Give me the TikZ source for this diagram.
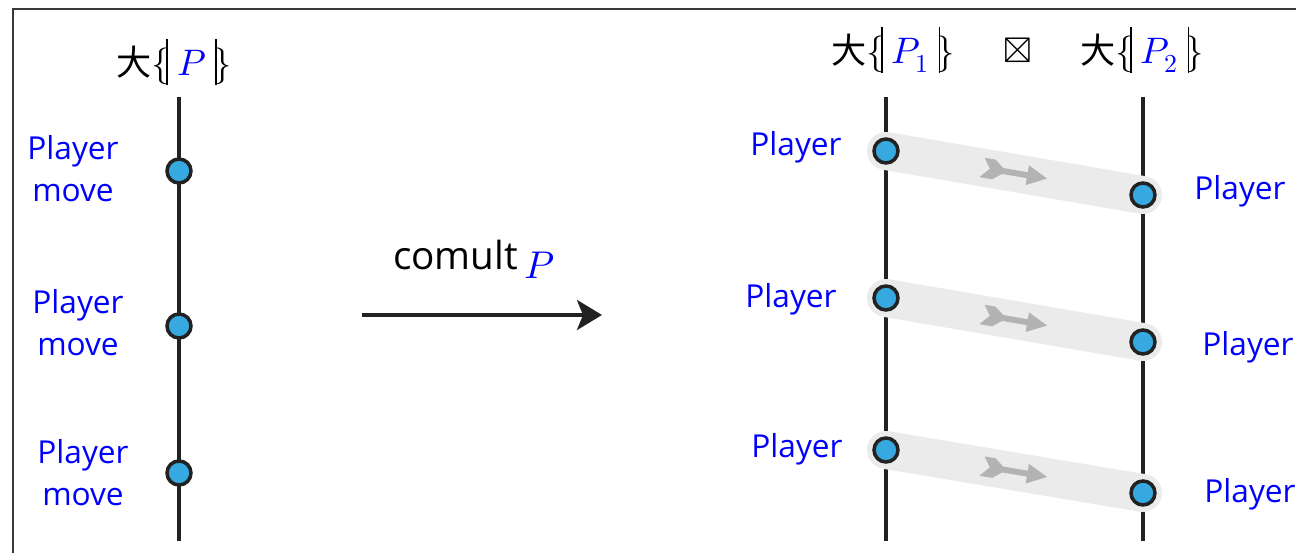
\documentclass[tikz,border=0pt]{standalone}
\usepackage{fontspec}
\usepackage{unicode-math}
\setmainfont{Open Sans}
\newfontfamily\cjk{Noto Sans CJK SC}
\usepackage{xcolor}
\usetikzlibrary{arrows.meta,decorations.markings}

\definecolor{dotblue}{HTML}{36A9E1}
\definecolor{bandgray}{HTML}{EBEBEB}
\definecolor{flechgray}{HTML}{B3B3B3}
\definecolor{ink}{HTML}{222222}

\newcommand{\Pv}[1]{\textcolor{blue}{#1}}
\newcommand{\lbb}{$\{$\kern-0.1em\rule[-0.5ex]{0.045em}{2.35ex}}
\newcommand{\rbb}{\rule[-0.5ex]{0.045em}{2.35ex}\kern-0.1em$\}$}
\newcommand{\ttl}[1]{{\cjk\fontsize{20}{24}\selectfont 大}\lbb\kern0.25em$\Pv{#1}$\kern0.25em\rbb}

\tikzset{
  wire/.style={ink, line width=2.1pt},
  dot/.style={circle, draw=ink, fill=dotblue, line width=2pt, minimum size=0.48cm, inner sep=0pt},
  lbl/.style={text=blue, font=\fontsize{18}{24}\selectfont, align=center},
  band/.style={bandgray, line width=0.76cm, line cap=round,
    postaction={decorate, decoration={markings, mark=at position 0.5 with {
      \fill[flechgray] (-32,-10) -- (-21,-10) -- (-12,-3) -- (13,-3) -- (13,-10) -- (33,0)
        -- (13,10) -- (13,3) -- (-12,3) -- (-21,10) -- (-34,10) -- (-25,0) -- cycle;}}}},
}

\begin{document}
\begin{tikzpicture}[x=0.02cm, y=-0.02cm, font=\fontsize{21}{25}\selectfont]
        \useasboundingbox (0,0) rectangle (1296,553);
        \draw[ink!90, line width=1.1pt] (13,553) |- (1296,9);

        % single wire
        \node(t) at (174,62) {\ttl{P}};
        \coordinate(top) at (179,97);
        \coordinate(bot) at (179,541);
        \draw[wire] (top) -- (bot);
        \node[dot](m1) at (179,171) {};
        \node[dot](m2) at (179,326) {};
        \node[dot](m3) at (179,473) {};
        \node[lbl](p1) at (73,169) {Player\\move};
        \node[lbl](p2) at (78,323) {Player\\move};
        \node[lbl](p3) at (83,473) {Player\\move};

        % comultiplication arrow
        \coordinate(s) at (362,315);
        \coordinate(e) at (602,315);
        \draw[ink, line width=2.1pt, -{Stealth[length=0.5cm, width=0.6cm, inset=0.12cm]}] (s) -- (e);
        \node(c) at (474,259) {\fontsize{22}{26}\selectfont comult\,\raisebox{-0.45ex}{$\Pv{P}$}};

        % two wires
        \node(ta) at (893,50) {\ttl{P_1}};
        \node(x) at (1018,50) {$\boxtimes$};
        \node(tb) at (1142,50) {\ttl{P_2}};
        \coordinate(atop) at (886,97);
        \coordinate(abot) at (886,541);
        \coordinate(btop) at (1143,97);
        \coordinate(bbot) at (1143,541);
        \draw[wire] (atop) -- (abot);
        \draw[wire] (btop) -- (bbot);
        \coordinate(a1) at (886,151);
        \coordinate(a2) at (886,298);
        \coordinate(a3) at (886,450);
        \coordinate(b1) at (1143,195);
        \coordinate(b2) at (1143,342);
        \coordinate(b3) at (1143,493);
        \draw[band] (a1) -- (b1);
        \draw[band] (a2) -- (b2);
        \draw[band] (a3) -- (b3);
        \foreach \n in {a1,a2,a3,b1,b2,b3}
          \node[dot] at (\n) {};
        \node[lbl](la1) at (796,147) {Player};
        \node[lbl](la2) at (791,299) {Player};
        \node[lbl](la3) at (797,449) {Player};
        \node[lbl](lb1) at (1240,191) {Player};
        \node[lbl](lb2) at (1248,347) {Player};
        \node[lbl](lb3) at (1250,494) {Player};
\end{tikzpicture}
\end{document}
